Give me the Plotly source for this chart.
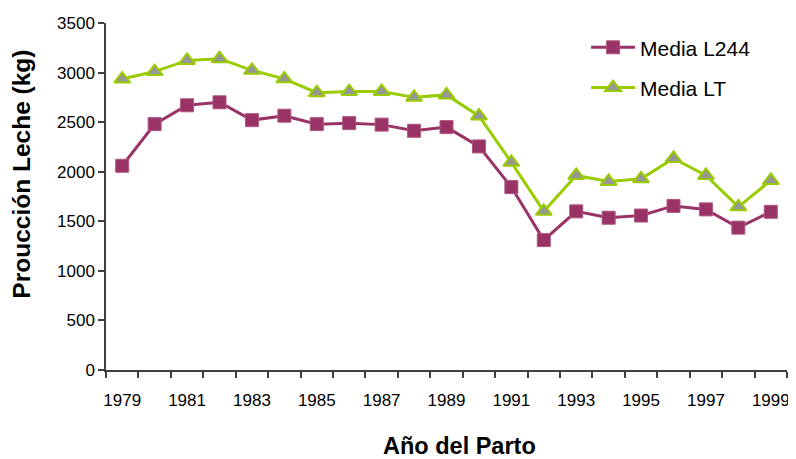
import plotly.graph_objects as go

years = list(range(1979, 2000))
media_l244 = [2060, 2480, 2670, 2700, 2520, 2565, 2480, 2490, 2475, 2413, 2450,
              2255, 1845, 1310, 1600, 1536, 1558, 1655, 1620, 1436, 1596]
media_lt = [2935, 3010, 3123, 3140, 3023, 2937, 2797, 2808, 2810, 2750, 2775,
            2563, 2095, 1601, 1962, 1902, 1928, 2134, 1962, 1646, 1912]
x_tick_labels = [str(y) for y in range(1979, 2000, 2)]
y_ticks = list(range(0, 3501, 500))

FONT = "Liberation Sans, Arial, sans-serif"
AXIS_COLOR = "#404040"

fig = go.Figure()
fig.add_trace(go.Scatter(
    x=years, y=media_l244, name="Media L244", mode="lines+markers",
    legendgroup="a",
    line=dict(color="#993366", width=3),
    marker=dict(symbol="square", size=13, color="#993366",
                line=dict(color="#b0567f", width=1)),
))
fig.add_trace(go.Scatter(
    x=years, y=media_lt, name="Media LT", mode="lines+markers",
    legendgroup="b",
    line=dict(color="#99CC00", width=3),
    marker=dict(symbol="triangle-up", size=14, color="#969696",
                line=dict(color="#99CC00", width=2)),
))

fig.update_layout(
    width=788, height=451,
    margin=dict(l=98, r=6, t=11, b=89),
    paper_bgcolor="white", plot_bgcolor="white",
    font=dict(family=FONT, size=17, color="black"),
    showlegend=True,
    legend=dict(x=0.705, y=0.988, xanchor="left", yanchor="top",
                font=dict(size=21, family=FONT), traceorder="grouped",
                tracegroupgap=10, itemwidth=44, bgcolor="rgba(0,0,0,0)"),
    xaxis=dict(
        range=[1978.5, 1999.5],
        tickmode="array", tickvals=[int(t) for t in x_tick_labels],
        ticktext=x_tick_labels, ticks="", showgrid=False, zeroline=False,
        showline=True, linecolor=AXIS_COLOR, linewidth=1.5,
        ticklabelstandoff=14,
        minor=dict(ticks="outside", tick0=1978.5, dtick=1, ticklen=6,
                   tickcolor=AXIS_COLOR, tickwidth=1.5, showgrid=False),
    ),
    yaxis=dict(
        range=[0, 3500], tickvals=y_ticks, ticks="outside", ticklen=6,
        tickcolor=AXIS_COLOR, tickwidth=1.5, showgrid=False, zeroline=False,
        showline=True, linecolor=AXIS_COLOR, linewidth=1.5,
    ),
    annotations=[
        dict(text="<b>Año del Parto</b>", xref="paper", yref="paper",
             x=(461 - 106) / 684, y=-(447 - 370) / 351, xanchor="center",
             yanchor="middle", showarrow=False, font=dict(size=23.5, family=FONT)),
        dict(text="<b>Proucción Leche (kg)</b>", xref="paper", yref="paper",
             x=-(106 - 21) / 684, y=(370 - 172) / 351, xanchor="center",
             yanchor="middle", textangle=-90, showarrow=False,
             font=dict(size=24.5, family=FONT)),
    ],
)

fig.write_html("out.html")
